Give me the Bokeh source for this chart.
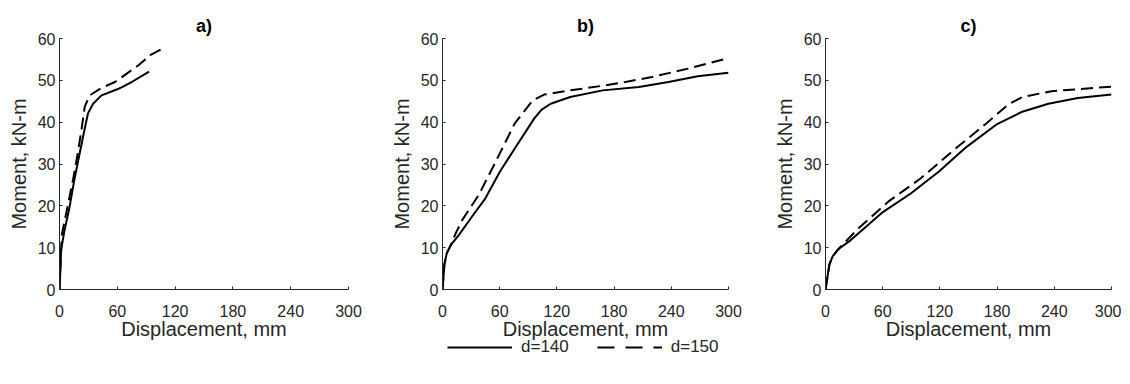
from bokeh.plotting import figure
from bokeh.layouts import row, column
from bokeh.models import FixedTicker, Title, Legend, LegendItem
from bokeh.embed import file_html
from bokeh.resources import INLINE

# ---- data (displacement mm, moment kN-m) ----
a140_x = [0, 1, 1.7, 5, 10.5, 15.7, 20.9, 26.2, 29.6, 34.9, 43.6, 59.3, 66, 75, 93]
a140_y = [0, 5.2, 9.5, 13.9, 19.8, 26.6, 32.5, 38.5, 42.1, 44.4, 46.4, 47.8, 48.5, 49.6, 52.1]
a150_x = [0, 1, 2.4, 8.7, 14, 19.2, 23, 26.2, 31.4, 43.6, 57.6, 69.8, 82, 94.2, 108]
a150_y = [0, 6, 13.1, 20.2, 26.2, 32.9, 38.5, 43.7, 46.4, 48.2, 49.6, 51.6, 53.6, 56, 57.7]

b140_x = [0, 2, 4.5, 9, 17.5, 31.2, 45, 60.3, 75.8, 96.3, 104, 113.5, 134, 168, 206, 237, 267.7, 300]
b140_y = [0, 6, 8.7, 10.7, 13.1, 17.5, 21.8, 28.2, 33.7, 40.9, 43.0, 44.4, 46, 47.6, 48.4, 49.6, 51, 51.8]
b150_x = [0, 2, 4.5, 9, 14, 21, 38, 55, 75.8, 94.6, 106.6, 134, 168, 192, 219.8, 257.5, 300]
b150_y = [0, 6, 8.7, 10.8, 13.5, 16.7, 22.6, 30.2, 39.7, 45.2, 46.6, 47.6, 48.7, 49.6, 50.8, 52.8, 55.3]

c140_x = [0, 4.1, 7.5, 12.7, 24.7, 59, 89.8, 119, 148, 179, 206.4, 233.8, 264.7, 300]
c140_y = [0, 6, 7.9, 9.5, 11.5, 18.3, 23, 28.2, 34.1, 39.4, 42.5, 44.4, 45.8, 46.6]
c150_x = [0, 4.1, 7.5, 14.4, 35, 65.8, 100, 134.4, 168.7, 192.7, 206.4, 237, 271.5, 300]
c150_y = [0, 6, 7.9, 9.9, 14.7, 21, 26.6, 33.3, 39.7, 44.4, 46, 47.4, 48, 48.5]

x_ticks = [0, 60, 120, 180, 240, 300]
y_ticks = [0, 10, 20, 30, 40, 50, 60]
titles = ["a)", "b)", "c)"]
series_labels = ["d=140", "d=150"]
x_label = "Displacement, mm"
y_label = "Moment, kN-m"

FONT = "Liberation Sans"
AX = "#262626"
DASH = "12 6"
TOP, FRAME_H, BOTTOM = 38, 251, 70


def make_panel(title, xs140, ys140, xs150, ys150, width, bl, br):
    p = figure(width=width, height=TOP + FRAME_H + BOTTOM, x_range=(0, 300), y_range=(0, 60),
               output_backend="svg", toolbar_location=None,
               min_border_left=bl, min_border_right=br,
               min_border_top=TOP, min_border_bottom=BOTTOM)
    p.outline_line_color = None
    p.background_fill_color = "white"
    p.border_fill_color = "white"
    p.xgrid.visible = False
    p.ygrid.visible = False
    t = Title(text=title, align="center", text_font=FONT, text_font_size="18px",
              text_font_style="bold", text_color="black", standoff=5)
    p.add_layout(t, "above")
    for ax, ticks, lab in ((p.xaxis[0], x_ticks, x_label), (p.yaxis[0], y_ticks, y_label)):
        ax.ticker = FixedTicker(ticks=ticks)
        ax.minor_tick_line_color = None
        ax.major_tick_in = 3
        ax.major_tick_out = 0
        ax.axis_line_color = AX
        ax.major_tick_line_color = AX
        ax.major_label_text_font = FONT
        ax.major_label_text_font_size = "16px"
        ax.major_label_text_color = AX
        ax.axis_label = lab
        ax.axis_label_text_font = FONT
        ax.axis_label_text_font_size = "20px"
        ax.axis_label_text_font_style = "normal"
        ax.axis_label_text_color = AX
    p.xaxis.major_label_standoff = 15
    p.xaxis.axis_label_standoff = -2
    p.yaxis.major_label_standoff = 4
    p.yaxis.axis_label_standoff = 5
    p.line(xs140, ys140, line_color="black", line_width=2, line_join="round")
    p.line(xs150, ys150, line_color="black", line_width=2, line_dash=DASH,
           line_join="round")
    return p


p1 = make_panel(titles[0], a140_x, a140_y, a150_x, a150_y, 387, 59, 39)
p2 = make_panel(titles[1], b140_x, b140_y, b150_x, b150_y, 383, 52, 42)
p3 = make_panel(titles[2], c140_x, c140_y, c150_x, c150_y, 351, 52, 10)

# legend strip, pulled up so it sits just under the axis label of panel b
lf = figure(width=1121, height=30, x_range=(1000, 1001), y_range=(1000, 1001),
            output_backend="svg", toolbar_location=None,
            x_axis_location=None, y_axis_location=None,
            min_border=0, margin=(-22, 0, 0, 0))
lf.outline_line_color = None
lf.background_fill_alpha = 0
lf.border_fill_alpha = 0
lf.grid.visible = False
# proxies carry series b data but lie outside this strip's ranges (not drawn)
lg1 = lf.line(b140_x, b140_y, line_color="black", line_width=2)
lg2 = lf.line(b150_x, b150_y, line_color="black", line_width=2, line_dash="17 11")
legend = Legend(items=[LegendItem(label=series_labels[0], renderers=[lg1]),
                       LegendItem(label=series_labels[1], renderers=[lg2])],
                orientation="horizontal", location=(447, 10),
                glyph_width=65, glyph_height=20, label_height=20,
                label_standoff=9, spacing=28, padding=0, margin=0,
                label_text_font=FONT, label_text_font_size="17px",
                label_text_color=AX, border_line_alpha=0,
                background_fill_alpha=0)
lf.add_layout(legend, "center")

layout = column(row(p1, p2, p3), lf)

open("out.html", "w").write(file_html(layout, INLINE))
